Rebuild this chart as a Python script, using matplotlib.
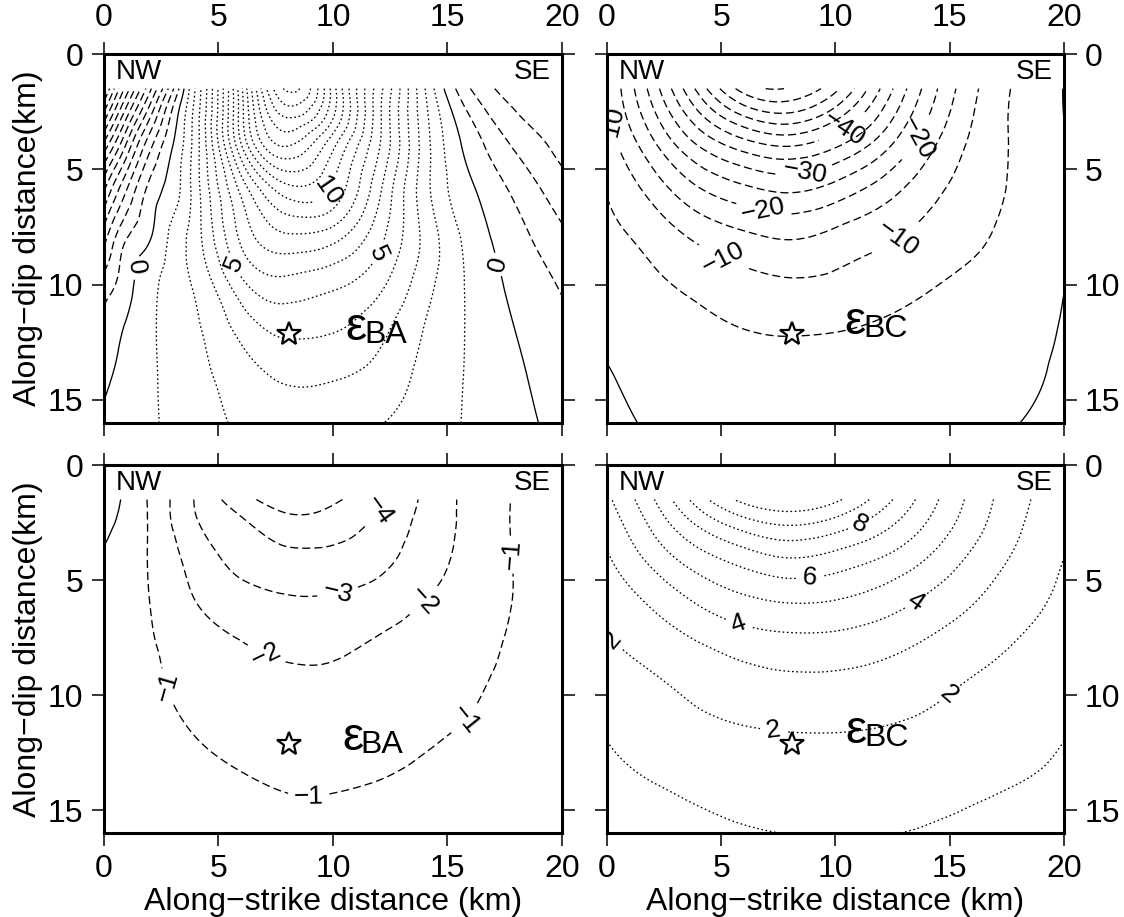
import numpy as np
import matplotlib
matplotlib.use("Agg")
import matplotlib.pyplot as plt
import matplotlib.tri as mtri

plt.rcParams['font.family'] = ['Liberation Sans', 'DejaVu Sans']
plt.rcParams['lines.scale_dashes'] = False
plt.rcParams['lines.dashed_pattern'] = [5.8, 2.9]
plt.rcParams['lines.dotted_pattern'] = [1.2, 1.9]

# grid nodes (km)
strike_km = [0, 2, 4, 6, 8, 10, 12, 14, 16, 18, 20]
strike_km_fine = [0, 1, 2, 3, 4, 6, 8, 10, 12, 14, 16, 18, 20]
dip_km = [1.5, 2.5, 4, 6, 8, 10, 12, 14, 16]

# strain values, one row per along-dip node
eps_ba_top = [  # on strike_km_fine
    [-15.2, -10.5, -6.3, -2.2, 2.1, 10.8, 18.2, 13.5, 7.45, 2.05, -2.0, -3.4, -3.8],
    [-13.0, -8.5, -4.5, -0.84, 2.4, 10.6, 16.5, 13.3, 7.3, 2.3, -1.18, -3.0, -3.6],
    [-9.6, -5.7, -2.27, 0.0, 2.5, 9.9, 14.0, 11.2, 7.1, 2.5, -0.4, -2.16, -3.3],
    [-5.95, -2.86, -0.65, 0.55, 2.5, 7.2, 10.4, 9.7, 6.2, 2.4, 0.18, -1.21, -2.53],
    [-3.35, -1.0, -0.05, 1.3, 2.55, 6.2, 7.75, 7.3, 5.3, 2.75, 0.63, -0.63, -1.75],
    [-1.54, -0.36, 0.7, 1.44, 2.15, 4.7, 5.65, 5.2, 4.25, 2.4, 0.83, -0.27, -1.1],
    [-0.7, 0.14, 0.83, 1.37, 1.85, 3.3, 4.2, 4.05, 3.3, 1.95, 0.89, -0.02, -0.8],
    [-0.2, 0.37, 0.85, 1.29, 1.7, 2.5, 3.15, 3.08, 2.65, 1.7, 0.9, 0.19, -0.6],
    [0.15, 0.5, 0.85, 1.22, 1.56, 2.15, 2.45, 2.4, 2.05, 1.5, 0.89, 0.32, -0.35],
]
eps_bc_top = [
    [-10.0, -27.2, -46.5, -62.1, -64.6, -56.3, -39.6, -23.3, -11.2, -4.1, 0.1],
    [-9.45, -24.2, -39.9, -52.1, -55.5, -48.3, -35.0, -21.0, -10.3, -3.9, 0.05],
    [-7.5, -18.6, -29.9, -37.1, -40.0, -35.5, -27.1, -16.7, -9.0, -4.1, -0.4],
    [-5.15, -11.5, -18.9, -23.1, -25.1, -22.3, -17.3, -11.65, -7.5, -4.0, -0.7],
    [-3.7, -6.56, -10.8, -13.7, -15.2, -13.35, -10.9, -8.35, -5.93, -3.1, -0.4],
    [-2.3, -4.2, -6.2, -8.3, -9.3, -8.8, -7.3, -5.5, -3.7, -1.9, -0.05],
    [-0.8, -2.2, -3.6, -4.9, -5.35, -5.1, -4.3, -3.1, -1.95, -0.9, 0.15],
    [0.2, -1.0, -2.1, -2.9, -3.3, -3.2, -2.7, -1.9, -1.1, -0.45, 0.35],
    [0.6, -0.3, -1.2, -1.8, -2.1, -2.05, -1.75, -1.2, -0.6, -0.02, 0.6],
]
eps_ba_bot = [
    [0.55, -1.12, -3.07, -4.61, -5.45, -5.15, -4.23, -2.8, -1.72, -0.93, -0.7],
    [0.24, -1.09, -2.91, -3.86, -4.69, -4.56, -3.78, -2.69, -1.71, -0.92, -0.7],
    [-0.1, -1.07, -2.44, -3.34, -3.76, -3.73, -3.31, -2.49, -1.65, -0.95, -0.72],
    [-0.45, -1.0, -1.98, -2.57, -2.85, -2.83, -2.53, -1.97, -1.45, -0.96, -0.72],
    [-0.6, -0.93, -1.42, -1.9, -2.17, -2.14, -1.84, -1.52, -1.21, -0.9, -0.7],
    [-0.55, -0.85, -1.18, -1.45, -1.65, -1.68, -1.57, -1.35, -1.07, -0.82, -0.65],
    [-0.5, -0.72, -0.98, -1.18, -1.32, -1.34, -1.25, -1.07, -0.88, -0.72, -0.58],
    [-0.45, -0.62, -0.78, -0.92, -1.03, -1.03, -0.97, -0.87, -0.75, -0.63, -0.52],
    [-0.4, -0.53, -0.66, -0.78, -0.86, -0.87, -0.83, -0.76, -0.66, -0.56, -0.47],
]
eps_bc_bot = [
    [3.8, 5.9, 8.5, 10.3, 10.9, 10.2, 8.5, 6.5, 4.7, 3.3, 2.3],
    [3.41, 5.27, 7.23, 8.62, 9.2, 8.66, 7.47, 5.98, 4.44, 3.14, 2.21],
    [2.9, 4.34, 5.63, 6.51, 7.05, 6.69, 6.02, 5.03, 3.83, 2.83, 2.0],
    [2.33, 3.14, 4.07, 4.72, 5.0, 4.9, 4.47, 3.77, 3.03, 2.35, 1.8],
    [1.82, 2.34, 2.84, 3.31, 3.53, 3.5, 3.24, 2.8, 2.34, 1.9, 1.54],
    [1.34, 1.74, 2.14, 2.42, 2.56, 2.56, 2.42, 2.15, 1.83, 1.54, 1.26],
    [1.0, 1.38, 1.64, 1.8, 1.88, 1.89, 1.83, 1.7, 1.52, 1.28, 1.0],
    [0.75, 0.96, 1.15, 1.29, 1.38, 1.39, 1.35, 1.25, 1.12, 0.98, 0.85],
    [0.55, 0.70, 0.84, 0.95, 1.01, 1.04, 1.02, 0.96, 0.88, 0.78, 0.71],
]

hypo_strike, hypo_dip = 8.1, 12.15


def fine_field(nodes_x, table):
    nx, ny = len(nodes_x), len(dip_km)
    X, Y = np.meshgrid(nodes_x, dip_km)
    tris = []
    for j in range(ny - 1):
        for i in range(nx - 1):
            a = j * nx + i
            tris.append([a, a + 1, a + nx + 1])
            tris.append([a, a + nx + 1, a + nx])
    tri = mtri.Triangulation(X.ravel(), Y.ravel(), tris)
    z = np.ravel(table).astype(float)
    return mtri.UniformTriRefiner(tri).refine_field(z, subdiv=4)


def fmt_minus(v):
    return f"{v:.0f}".replace("-", "\u2212")


def style_of(level):
    if level < 0:
        return 'dashed'
    if level == 0:
        return 'solid'
    return 'dotted'


def draw_panel(ax, nodes_x, table, levels, labels, sub, sub_xy):
    tri_f, z_f = fine_field(nodes_x, table)
    levels = [lv for lv in levels if z_f.min() < lv < z_f.max()]
    labelled = set()
    for lv_list, pts in labels:
        labelled.update(lv_list)
    plain = [lv for lv in levels if lv not in labelled]
    for st in ('dashed', 'solid', 'dotted'):
        lv = [v for v in plain if style_of(v) == st]
        if lv:
            ax.tricontour(tri_f, z_f, levels=lv, colors='k', linewidths=0.95,
                          linestyles=st)
    for lv_list, pts in labels:
        cs = ax.tricontour(tri_f, z_f, levels=lv_list, colors='k', linewidths=0.95,
                           linestyles=style_of(lv_list[0]))
        ax.clabel(cs, manual=pts, inline=True, fmt=fmt_minus,
                  fontsize=19, inline_spacing=6)
    ax.plot(hypo_strike, hypo_dip, marker='*', ms=18, mfc='white', mec='k', mew=1.6)
    ax.text(0.5, 0.8, 'NW', fontsize=20, ha='left', va='center')
    ax.text(19.5, 0.8, 'SE', fontsize=20, ha='right', va='center')
    ex, ey = sub_xy
    ax.text(ex, ey, '\u03b5', fontsize=34, ha='center', va='center')
    ax.text(ex + 0.35, ey + 0.65, sub, fontsize=23, ha='left', va='baseline')


fig = plt.figure(figsize=(11.24, 9.17), dpi=100)
rects = [[0.0925, 0.5387, 0.4075, 0.4024], [0.540, 0.5387, 0.4066, 0.4024],
         [0.0925, 0.0916, 0.4075, 0.4013], [0.540, 0.0916, 0.4066, 0.4013]]
axes = [fig.add_axes(r) for r in rects]

draw_panel(axes[0], strike_km_fine, eps_ba_top, list(range(-15, 19)),
           [([0], [(1.7, 9.3), (17.1, 9.15)]),
            ([5, 10], [(5.4, 9.2), (12.0, 8.65), (9.8, 5.95)])],
           'BA', (11.0, 11.9))
draw_panel(axes[1], strike_km, eps_bc_top, list(range(-65, 1, 5)),
           [([-40, -30, -20, -10],
             [(0.3, 3.2), (5.0, 9.0), (12.8, 8.1), (6.8, 7.0), (13.6, 3.65),
              (8.7, 5.25), (10.3, 3.15)])],
           'BC', (10.85, 11.6))
draw_panel(axes[2], strike_km, eps_ba_bot, [-5, -4, -3, -2, -1, 0],
           [([-4, -3, -2, -1],
             [(11.9, 1.9), (10.2, 5.5), (7.06, 8.28), (13.96, 5.88),
              (2.67, 9.66), (8.94, 14.25), (15.7, 10.97), (17.73, 3.9)])],
           'BA', (10.85, 11.85))
draw_panel(axes[3], strike_km, eps_bc_bot, list(range(1, 11)),
           [([2, 4, 6, 8],
             [(11.1, 2.6), (8.85, 5.0), (5.7, 7.0), (13.5, 5.9), (0.35, 7.5),
              (7.3, 11.4), (15.0, 10.0)])],
           'BC', (10.9, 11.55))

for ax, (on_top, on_right) in zip(axes, [(True, False), (True, True),
                                         (False, False), (False, True)]):
    ax.set_xlim(0, 20)
    ax.set_ylim(16, 0)
    ax.set_xticks([0, 5, 10, 15, 20])
    ax.set_yticks([0, 5, 10, 15])
    ax.tick_params(direction='out', length=9, width=1.1, labelsize=23, pad=6,
                   top=True, bottom=True, left=True, right=True,
                   labeltop=on_top, labelbottom=not on_top,
                   labelleft=not on_right, labelright=on_right)
    for s in ax.spines.values():
        s.set_linewidth(2.2)

for ax in (axes[0], axes[2]):
    ax.set_ylabel('Along\u2212dip distance(km)', fontsize=23, labelpad=3)
for ax in (axes[2], axes[3]):
    ax.set_xlabel('Along\u2212strike distance (km)', fontsize=23, labelpad=2)

fig.savefig('out.png', dpi=100)
